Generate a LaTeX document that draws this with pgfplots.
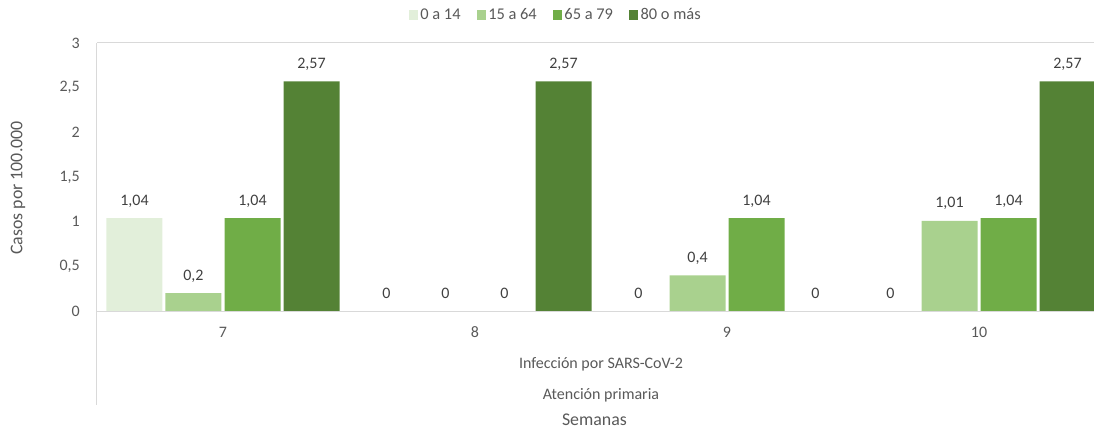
\documentclass[border=0pt]{standalone}
\usepackage{fontspec}
\setmainfont{Carlito}
\usepackage{pgfplots}
\pgfplotsset{compat=1.18}

\definecolor{cA}{HTML}{E2EFDA}
\definecolor{cB}{HTML}{A9D18E}
\definecolor{cC}{HTML}{70AD47}
\definecolor{cD}{HTML}{548235}
\definecolor{txt}{HTML}{595959}
\definecolor{lbl}{HTML}{404040}
\definecolor{axl}{HTML}{D9D9D9}

\begin{document}
\begin{tikzpicture}
\begin{axis}[
    scale only axis,
    width=747.75pt, height=201pt,
    xmin=0.5, xmax=4.4563,
    ymin=0, ymax=3,
    clip=false,
    axis line style={draw=none},
    tick style={draw=none},
    major tick length=0pt,
    xtick={1,2,3,4},
    xticklabels={7,8,9,10},
    ytick={0,0.5,1,1.5,2,2.5,3},
    yticklabels={0,{0,5},1,{1,5},2,{2,5},3},
    ticklabel style={font=\fontsize{12}{14}\selectfont, text=txt},
    yticklabel style={anchor=east, inner sep=0pt, xshift=-12.75pt},
    xticklabel style={anchor=base, inner sep=0pt, yshift=-19.5pt},
    /pgf/number format/.cd, use comma, assume math mode=true, 1000 sep={},
    /pgfplots/.cd,
    ybar,
    bar width=0.2222,
    nodes near coords,
    every node near coord/.append style={font=\fontsize{12}{14}\selectfont, text=lbl, anchor=base, inner sep=0pt, yshift=9.75pt},
    legend columns=4,
    legend style={draw=none, fill=none, at={(0.4604,1.1045)}, anchor=center,
        font=\fontsize{12.3}{14}\selectfont, text=txt,
        /tikz/every even column/.append style={column sep=10pt}},
    legend image code/.code={\fill[#1] (0pt,-3.4pt) rectangle (6.75pt,3.4pt);},
]
\addplot[fill=cA, draw=none, bar shift=-0.3512] coordinates {(1,1.04) (2,0) (3,0) (4,0)};
\addplot[fill=cB, draw=none, bar shift=-0.1171] coordinates {(1,0.2) (2,0) (3,0.4) (4,1.01)};
\addplot[fill=cC, draw=none, bar shift=0.1171] coordinates {(1,1.04) (2,0) (3,1.04) (4,1.04)};
\addplot[fill=cD, draw=none, bar shift=0.3512] coordinates {(1,2.57) (2,2.57) (3,0) (4,2.57)};
\legend{0 a 14, 15 a 64, 65 a 79, 80 o más}

\draw[axl, line width=0.75pt] (rel axis cs:0,1) -- (rel axis cs:1,1);
\draw[axl, line width=0.75pt] (rel axis cs:0,0) -- (rel axis cs:1,0);
\draw[axl, line width=0.75pt] (rel axis cs:0,1) -- ([yshift=-70.5pt]rel axis cs:0,0);

\node[text=txt, font=\fontsize{12}{14}\selectfont] at ([yshift=-39.75pt]axis cs:2.5,0) {Infección por SARS-CoV-2};
\node[text=txt, font=\fontsize{12}{14}\selectfont] at ([yshift=-63pt]axis cs:2.5,0) {Atención primaria};
\node[text=txt, font=\fontsize{13.4}{16}\selectfont] at ([yshift=-81.75pt]axis cs:2.474,0) {Semanas};
\node[text=txt, font=\fontsize{13.4}{16}\selectfont, rotate=90] at ([xshift=-59.25pt]rel axis cs:0,0.459) {Casos por 100.000};
\end{axis}
\pgfresetboundingbox
\path[use as bounding box] (-72.75pt,-93pt) rectangle (747.75pt,233.25pt);
\end{tikzpicture}
\end{document}
